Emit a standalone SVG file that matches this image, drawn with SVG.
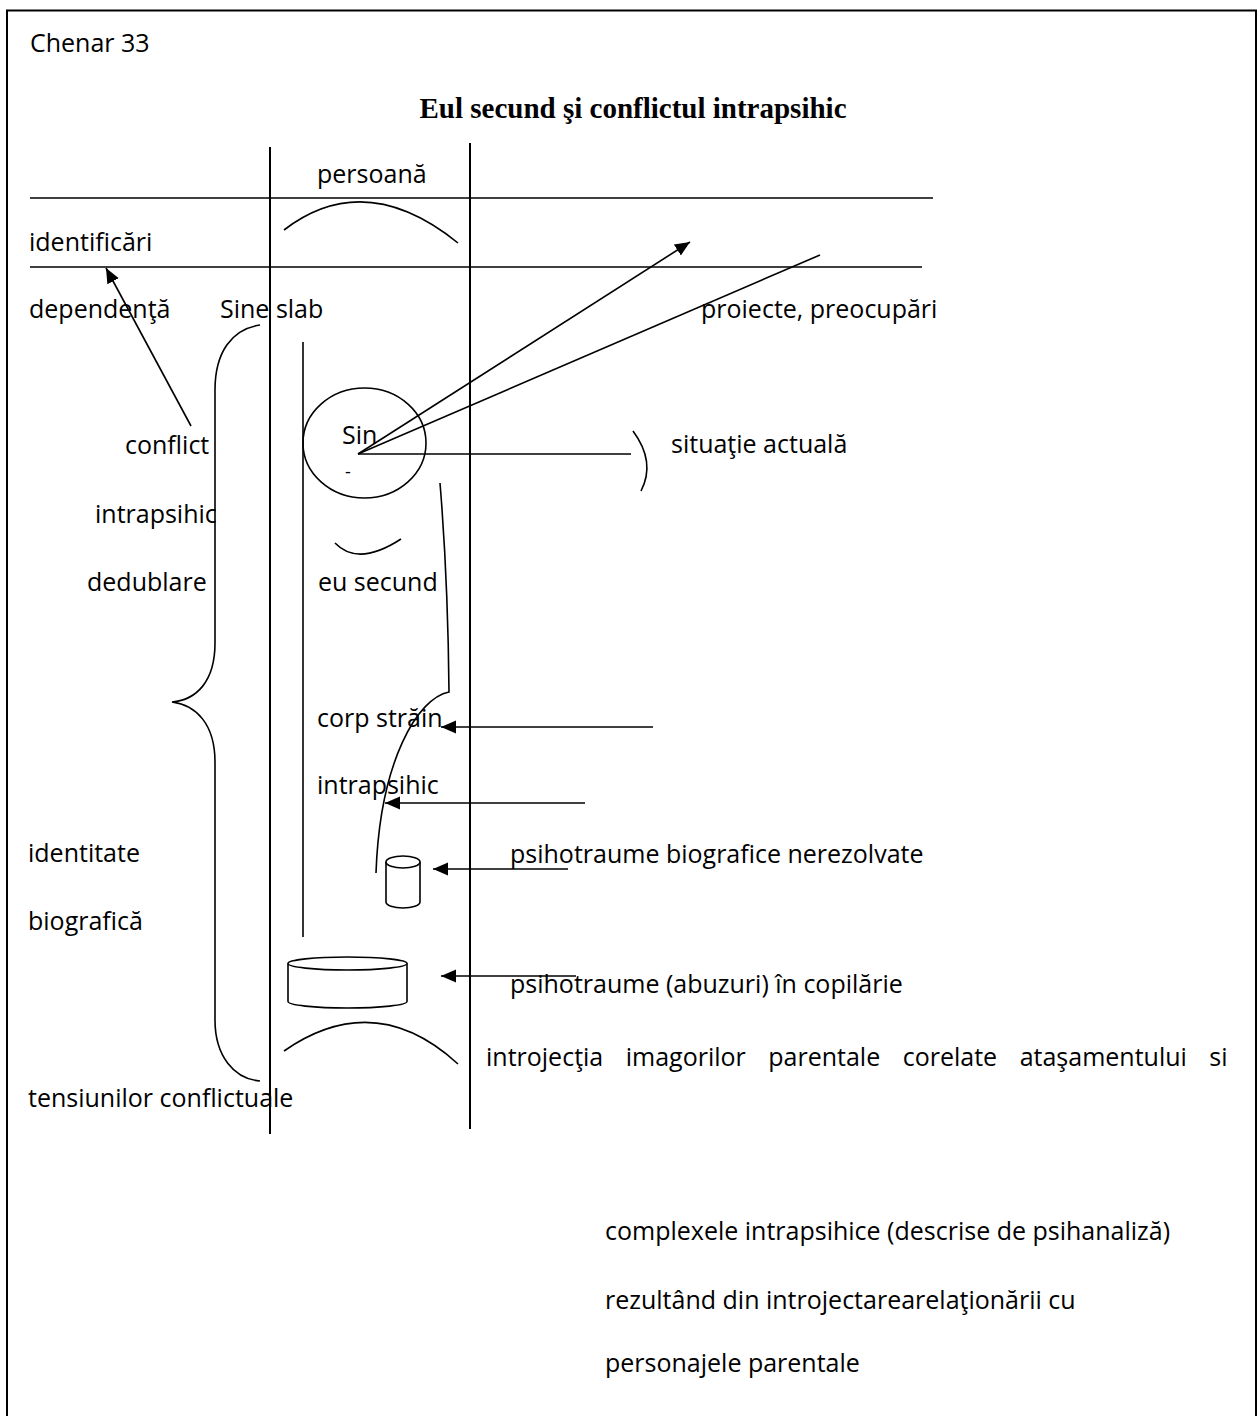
<svg xmlns="http://www.w3.org/2000/svg" width="1260" height="1416" viewBox="0 0 1260 1416">
<defs>
<style>
.t{font-family:"Open Sans","Noto Sans","Liberation Sans",sans-serif;font-size:25px;fill:#000}
.ttl{font-family:"Liberation Serif","Times New Roman",serif;font-size:29px;font-weight:bold;fill:#000}
.ln{stroke:#000;stroke-width:1.6;fill:none}
.bl{stroke:#000;stroke-width:2;fill:none}
.sh{stroke:#000;stroke-width:1.6;fill:#fff}
</style>
<marker id="ah" markerUnits="userSpaceOnUse" markerWidth="16" markerHeight="14" refX="15" refY="6.5" orient="auto">
<path d="M0,0 L15,6.5 L0,13 z" fill="#000"/>
</marker>
</defs>
<rect x="0" y="0" width="1260" height="1416" fill="#fff"/>
<rect id="frame" x="7" y="10.5" width="1249" height="1420" fill="none" stroke="#000" stroke-width="2"/>

<g id="header">
<text class="t" x="30" y="52">Chenar 33</text>
<text class="ttl" x="633" y="118" text-anchor="middle">Eul secund şi conflictul intrapsihic</text>
</g>

<g id="grid">
<line class="bl" x1="270" y1="147" x2="270" y2="1134"/>
<line class="bl" x1="470" y1="143" x2="470" y2="1129"/>
<line class="ln" x1="30" y1="198" x2="933" y2="198"/>
<line class="ln" x1="30" y1="267" x2="922" y2="267"/>
<line class="ln" x1="303" y1="342" x2="303" y2="937"/>
</g>

<g id="persoana">
<text class="t" x="317" y="183">persoană</text>
<path class="ln" d="M284,230 Q365,168 458,243"/>
</g>

<g id="identificari"><text class="t" x="29" y="251">identificări</text></g>
<g id="dependenta"><text class="t" x="29" y="318">dependenţă</text></g>
<g id="sine-slab"><text class="t" x="220" y="318">Sine slab</text></g>
<g id="proiecte"><text class="t" x="701" y="318">proiecte, preocupări</text></g>

<g id="conflict-intrapsihic">
<text class="t" x="125" y="454">conflict</text>
<text class="t" x="95" y="523">intrapsihic</text>
<text class="t" x="87" y="591">dedublare</text>
</g>

<g id="brace">
<path class="ln" d="M260,325 C232,329 215,352 215,390 L215,643 C215,682 196,700 172,702 C196,705 215,724 215,762 L215,1020 C215,1056 234,1079 260,1081"/>
</g>

<g id="identitate">
<text class="t" x="28" y="862">identitate</text>
<text class="t" x="28" y="930">biografică</text>
<text class="t" x="28" y="1107">tensiunilor conflictuale</text>
</g>

<g id="sine">
<ellipse class="ln" cx="364.5" cy="443" rx="61.5" ry="55"/>
<text class="t" x="342" y="444">Sin</text>
<text class="t" x="345" y="478" style="font-size:18px">-</text>
</g>

<g id="situatie">
<path class="ln" d="M633,431 Q656,462 641,491"/>
<text class="t" x="671" y="453">situaţie actuală</text>
</g>

<g id="eu-secund">
<path class="ln" d="M335,543 Q358,567 401,539"/>
<text class="t" x="318" y="591">eu secund</text>
</g>

<g id="corp-strain">
<path class="ln" d="M440,483 Q448,580 449,692 C418,698 380,760 376,873"/>
<text class="t" x="317" y="727">corp străin</text>
<text class="t" x="317" y="794">intrapsihic</text>
</g>

<g id="psihotraume-biografice">
<path class="sh" d="M386,862 L386,902 A17,6 0 0 0 420,902 L420,862"/>
<ellipse class="sh" cx="403" cy="862" rx="17" ry="6"/>
<text class="t" x="510" y="863">psihotraume biografice nerezolvate</text>
</g>

<g id="psihotraume-copilarie">
<path class="sh" d="M288,963.5 L288,1001.5 A59.5,6.5 0 0 0 407,1001.5 L407,963.5"/>
<ellipse class="sh" cx="347.5" cy="963.5" rx="59.5" ry="6.5"/>
<text class="t" x="510" y="993">psihotraume (abuzuri) în copilărie</text>
</g>

<g id="introjectia">
<path class="ln" d="M284,1051 Q375,988 458,1064"/>
<text class="t" x="486" y="1066" word-spacing="16">introjecţia imagorilor parentale corelate ataşamentului si</text>
</g>

<g id="complexele">
<text class="t" x="605" y="1240">complexele intrapsihice (descrise de psihanaliză)</text>
<text class="t" x="605" y="1309">rezultând din introjectarearelaţionării cu</text>
<text class="t" x="605" y="1372">personajele parentale</text>
</g>

<g id="connectors">
<line class="ln" x1="191" y1="426" x2="106" y2="268" marker-end="url(#ah)"/>
<line class="ln" x1="358" y1="454" x2="690" y2="242" marker-end="url(#ah)"/>
<line class="ln" x1="358" y1="454" x2="820" y2="255"/>
<line class="ln" x1="358" y1="454" x2="631" y2="454"/>
<line class="ln" x1="653" y1="727" x2="441" y2="727" marker-end="url(#ah)"/>
<line class="ln" x1="585" y1="803" x2="385" y2="803" marker-end="url(#ah)"/>
<line class="ln" x1="568" y1="869" x2="433" y2="869" marker-end="url(#ah)"/>
<line class="ln" x1="576" y1="976" x2="441" y2="976" marker-end="url(#ah)"/>
</g>
</svg>
